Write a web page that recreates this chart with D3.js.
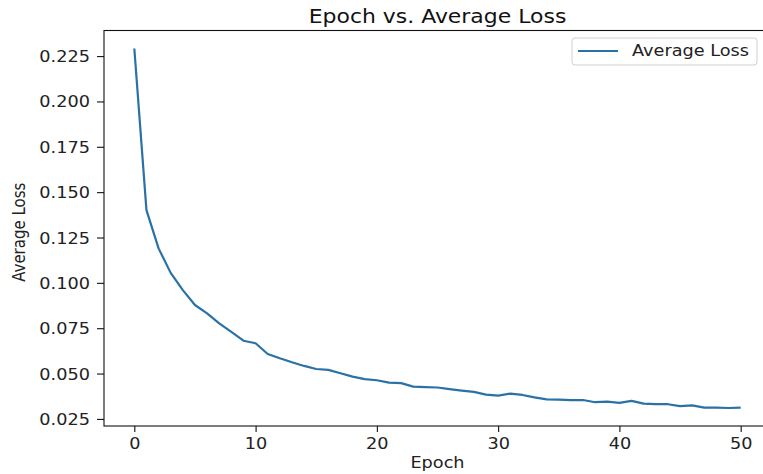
<!DOCTYPE html>
<html>
<head>
<meta charset="utf-8">
<script src="https://cdn.jsdelivr.net/npm/d3@7"></script>
<style>
  body { margin: 0; background: #fff; }
  svg { display: block; font-family: "DejaVu Sans", sans-serif; }
</style>
</head>
<body>
<svg width="763" height="474"></svg>
<script>
// data
var epochs = d3.range(0, 51);
var avgLoss = [
  0.2292, 0.1401, 0.1190, 0.1055, 0.0960, 0.0878, 0.0832, 0.0777, 0.0730, 0.0681,
  0.0667, 0.0608, 0.0584, 0.0562, 0.0542, 0.0525, 0.0520, 0.0502, 0.0483, 0.0469,
  0.0463, 0.0450, 0.0447, 0.0428, 0.0425, 0.0423, 0.0414, 0.0406, 0.0399, 0.0384,
  0.0378, 0.0389, 0.0382, 0.0369, 0.0358, 0.0356, 0.0354, 0.0354, 0.0342, 0.0345,
  0.0338, 0.0349, 0.0334, 0.0332, 0.0331, 0.0320, 0.0325, 0.0312, 0.0312, 0.0310,
  0.0312
];
var xTicks = [0, 10, 20, 30, 40, 50];
var yTicks = [0.025, 0.050, 0.075, 0.100, 0.125, 0.150, 0.175, 0.200, 0.225];
var title = "Epoch vs. Average Loss";
var seriesName = "Average Loss";

// the picture is stretched sideways a bit, so text gets the same stretch
var sx = 1.18;
// plot box (window.top is read-only, so no plain "top")
var pLeft = 104, pRight = 771, pTop = 30.5, pBottom = 426;
var blue = "#2a71a6";

var svg = d3.select("svg");

// matplotlib style 5% margins
var xm = (d3.max(epochs) - d3.min(epochs)) * 0.05;
var x = d3.scaleLinear()
  .domain([d3.min(epochs) - xm, d3.max(epochs) + xm])
  .range([pLeft, pRight]);

var ext = d3.extent(avgLoss);
var ym = (ext[1] - ext[0]) * 0.05;
var y = d3.scaleLinear()
  .domain([ext[0] - ym, ext[1] + ym])
  .range([pBottom, pTop]);

// line
var line = d3.line()
  .x(function(d, i){ return x(epochs[i]); })
  .y(function(d){ return y(d); });

svg.append("path")
  .datum(avgLoss)
  .attr("d", line)
  .attr("fill", "none")
  .attr("stroke", blue)
  .attr("stroke-width", 2.2)
  .attr("stroke-linejoin", "round");

// frame
svg.append("rect")
  .attr("x", pLeft).attr("y", pTop)
  .attr("width", pRight - pLeft).attr("height", pBottom - pTop)
  .attr("fill", "none")
  .attr("stroke", "#111")
  .attr("stroke-width", 1.1);

// axes
var xAxis = svg.append("g")
  .attr("transform", "translate(0," + pBottom + ")")
  .call(d3.axisBottom(x).tickValues(xTicks).tickSize(6).tickPadding(5).tickFormat(d3.format("d")));

var yAxis = svg.append("g")
  .attr("transform", "translate(" + pLeft + ",0)")
  .call(d3.axisLeft(y).tickValues(yTicks).tickSize(7).tickPadding(7).tickFormat(d3.format(".3f")));

[xAxis, yAxis].forEach(function(ax){
  ax.select(".domain").remove();
  ax.selectAll(".tick line").attr("stroke", "#111").attr("stroke-width", 1.1);
  ax.selectAll(".tick text")
    .attr("fill", "#222")
    .style("font-size", "15px")
    .style("font-family", "DejaVu Sans");
});

xAxis.selectAll(".tick text")
  .attr("dy", null)
  .attr("y", 23)
  .attr("transform", "scale(" + sx + ",1)");

yAxis.selectAll(".tick text")
  .attr("dy", null)
  .attr("y", 5.5)
  .attr("x", -14 / sx)
  .attr("transform", "scale(" + sx + ",1)");

// title and axis labels
svg.append("text")
  .attr("transform", "translate(" + ((pLeft + pRight) / 2) + ",23) scale(" + sx + ",1)")
  .attr("text-anchor", "middle")
  .style("font-size", "18.6px")
  .attr("fill", "#111")
  .text(title);

svg.append("text")
  .attr("transform", "translate(" + ((pLeft + pRight) / 2) + ",468) scale(" + sx + ",1)")
  .attr("text-anchor", "middle")
  .style("font-size", "15px")
  .attr("fill", "#222")
  .text("Epoch");

svg.append("text")
  .attr("transform", "translate(25," + ((pTop + pBottom) / 2 + 4) + ") scale(" + sx + ",1) rotate(-90)")
  .attr("text-anchor", "middle")
  .style("font-size", "15px")
  .attr("fill", "#222")
  .text(seriesName);

// legend
var legend = svg.append("g").attr("transform", "translate(572,38)");
legend.append("rect")
  .attr("width", 185).attr("height", 27)
  .attr("rx", 3)
  .attr("fill", "#fff")
  .attr("stroke", "#d0d0d0");
legend.append("line")
  .attr("x1", 6).attr("x2", 46)
  .attr("y1", 13).attr("y2", 13)
  .attr("stroke", blue)
  .attr("stroke-width", 2.2);
legend.append("text")
  .attr("transform", "translate(60,18) scale(" + sx + ",1)")
  .style("font-size", "15px")
  .attr("fill", "#222")
  .text(seriesName);
</script>
</body>
</html>
